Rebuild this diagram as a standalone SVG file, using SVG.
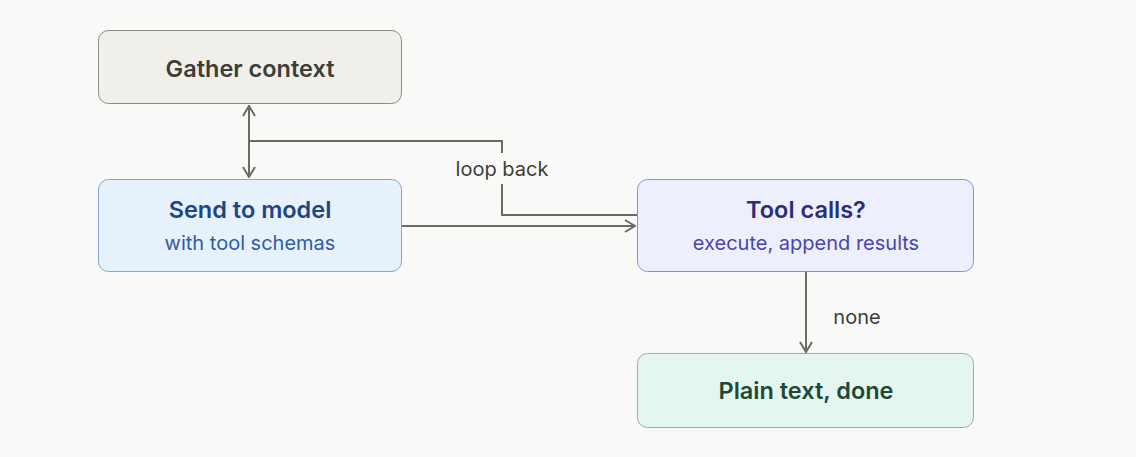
<svg xmlns="http://www.w3.org/2000/svg" width="1136" height="457" viewBox="0 0 1136 457">
<defs>
<marker id="arr" viewBox="0 0 12 14" refX="11" refY="7" markerWidth="12" markerHeight="14" markerUnits="userSpaceOnUse" orient="auto-start-reverse">
<path d="M1,1 L11,7 L1,13" fill="none" stroke="#6b6b66" stroke-width="2"/>
</marker>
<style>
.t{font-family:Inter,"Noto Sans",sans-serif;font-size:23.5px;font-weight:600;text-anchor:middle}
.s{font-family:Inter,"Noto Sans",sans-serif;font-size:20px;font-weight:400;text-anchor:middle}
.l{font-family:Inter,"Noto Sans",sans-serif;font-size:20px;fill:#3d3d3a;text-anchor:middle}
.c{fill:none;stroke:#6b6b66;stroke-width:2}
</style>
</defs>
<rect width="1136" height="457" fill="#f9f9f7"/>
<g id="connectors">
<path class="c" d="M249,105 V177" marker-end="url(#arr)"/>
<path class="c" d="M637,215 H502 V184"/>
<path class="c" d="M502,153 V141 H249 V106" marker-end="url(#arr)"/>
<path class="c" d="M401,226 H635" marker-end="url(#arr)"/>
<path class="c" d="M806,272 V352" marker-end="url(#arr)"/>
<text class="l" x="502" y="176">loop back</text>
<text class="l" x="857" y="324">none</text>
</g>
<g id="gather">
<rect x="98.5" y="30.5" width="303" height="73" rx="10" fill="#f0efea" stroke="#8c8b85"/>
<text class="t" x="250" y="77" fill="#3d3d3a">Gather context</text>
</g>
<g id="send">
<rect x="98.5" y="179.5" width="303" height="92" rx="10" fill="#e6f1fb" stroke="#86a3d4"/>
<text class="t" x="250" y="218" fill="#1d4585">Send to model</text>
<text class="s" x="250" y="250" fill="#2e5ca6">with tool schemas</text>
</g>
<g id="toolcalls">
<rect x="637.5" y="179.5" width="336" height="92" rx="10" fill="#eeeffc" stroke="#8c8dd8"/>
<text class="t" x="806" y="218" fill="#2c2c7c">Tool calls?</text>
<text class="s" x="806" y="250" fill="#4846ad">execute, append results</text>
</g>
<g id="plain">
<rect x="637.5" y="353.5" width="336" height="74" rx="10" fill="#e5f5ef" stroke="#8fb3a2"/>
<text class="t" x="806" y="399" fill="#1d4a38">Plain text, done</text>
</g>
</svg>
